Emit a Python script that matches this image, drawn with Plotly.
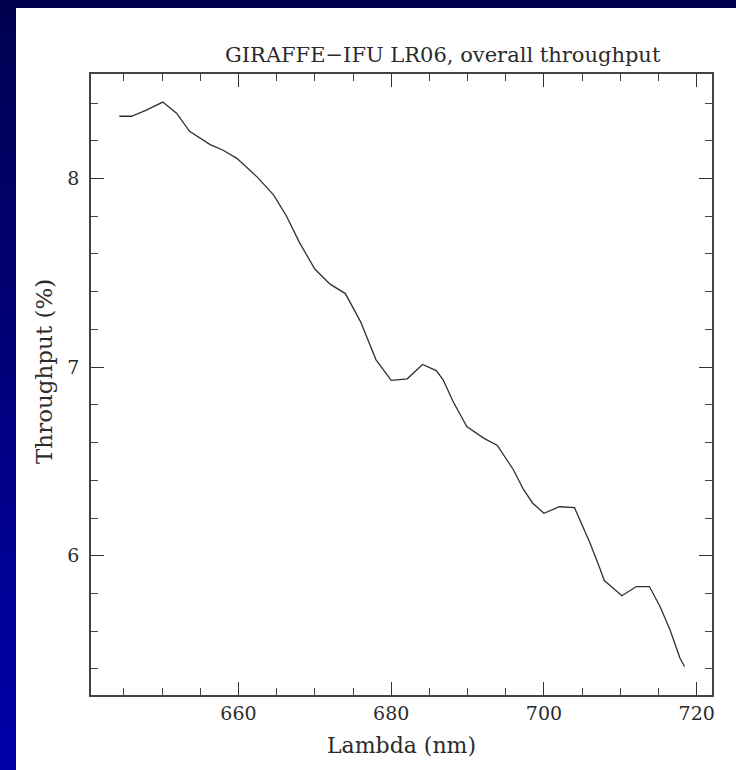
import plotly.graph_objects as go

# Overall throughput of GIRAFFE-IFU, LR06 setting
wavelength_nm = [644.4, 646.0, 647.8, 650.1, 651.9, 653.6, 656.3, 658.0, 659.8, 662.4,
                 664.6, 666.3, 668.0, 670.0, 672.0, 674.0, 676.0, 678.0, 680.0, 682.1,
                 684.1, 685.9, 686.8, 688.1, 689.9, 692.1, 693.9, 696.0, 697.3, 698.5,
                 700.0, 702.0, 704.0, 706.0, 707.3, 707.9, 710.2, 712.1, 713.8, 715.2,
                 716.5, 717.8, 718.4]
throughput_pct = [8.33, 8.33, 8.36, 8.405, 8.346, 8.25, 8.18, 8.15, 8.107, 8.01,
                  7.913, 7.80, 7.66, 7.52, 7.44, 7.39, 7.24, 7.04, 6.93, 6.938,
                  7.014, 6.982, 6.933, 6.818, 6.685, 6.624, 6.585, 6.456, 6.353, 6.28,
                  6.225, 6.26, 6.255, 6.07, 5.935, 5.869, 5.788, 5.837, 5.837, 5.731,
                  5.608, 5.458, 5.413]

title_text = "GIRAFFE\u2212IFU LR06, overall throughput"
x_label = "Lambda (nm)"
y_label = "Throughput (%)"

W, H = 736, 770
L, R, T, B = 91, 24, 74, 75
pw, ph = W - L - R, H - T - B

def px(x):
    return (x - L) / pw

def py(y):
    return 1 - (y - T) / ph

font = "DejaVu Serif"
ink = "#2b2b2b"

fig = go.Figure(go.Scatter(
    x=wavelength_nm, y=throughput_pct, mode="lines",
    line=dict(color="#303030", width=1.3), hoverinfo="skip"))

axis_common = dict(
    showgrid=False, zeroline=False, showline=True, mirror="ticks",
    linecolor="#444444", linewidth=1.6,
    ticks="inside", ticklen=13, tickwidth=1.3, tickcolor="#333333",
    tickfont=dict(family=font, size=19, color=ink),
)

fig.update_xaxes(range=[640.7, 722.0], tick0=0, dtick=20,
                 minor=dict(dtick=5, ticks="inside", ticklen=7, tickwidth=1.2,
                            tickcolor="#444444"),
                 **axis_common)
fig.update_yaxes(range=[5.262, 8.554], tick0=0, dtick=1, ticklabelstandoff=6,
                 minor=dict(dtick=0.2, ticks="inside", ticklen=7, tickwidth=1.2,
                            tickcolor="#444444"),
                 **axis_common)

# Blue slide frame along the left and top edges; the left strip is a vertical
# gradient built from stacked bands, each running to the bottom edge so no gaps show
shapes = []
n = 90
for i in range(n):
    f = i / (n - 1)
    b = int(round(80 + (170 - 80) * f))
    y0 = i * H / n
    shapes.append(dict(type="rect", xref="paper", yref="paper",
                       x0=px(-2), x1=px(16), y0=py(H + 2), y1=py(y0),
                       fillcolor=f"rgb(0,0,{b})", line=dict(width=0),
                       layer="above"))
shapes.append(dict(type="rect", xref="paper", yref="paper",
                   x0=px(-2), x1=px(W + 2), y0=py(8), y1=py(-2),
                   fillcolor="rgb(0,0,80)", line=dict(width=0), layer="above"))

annotations = [
    dict(text=title_text, x=px(443), y=py(55), xref="paper", yref="paper",
         showarrow=False, xanchor="center", yanchor="middle",
         font=dict(family=font, size=21, color=ink)),
    dict(text=x_label, x=px(401), y=py(745), xref="paper", yref="paper",
         showarrow=False, xanchor="center", yanchor="middle",
         font=dict(family=font, size=22, color=ink)),
    dict(text=y_label, x=px(44), y=py(372), xref="paper", yref="paper",
         showarrow=False, xanchor="center", yanchor="middle", textangle=-90,
         font=dict(family=font, size=23, color=ink)),
]

fig.update_layout(
    width=W, height=H, margin=dict(l=L, r=R, t=T, b=B),
    paper_bgcolor="white", plot_bgcolor="white",
    showlegend=False, shapes=shapes, annotations=annotations,
)

fig.write_html("out.html")
